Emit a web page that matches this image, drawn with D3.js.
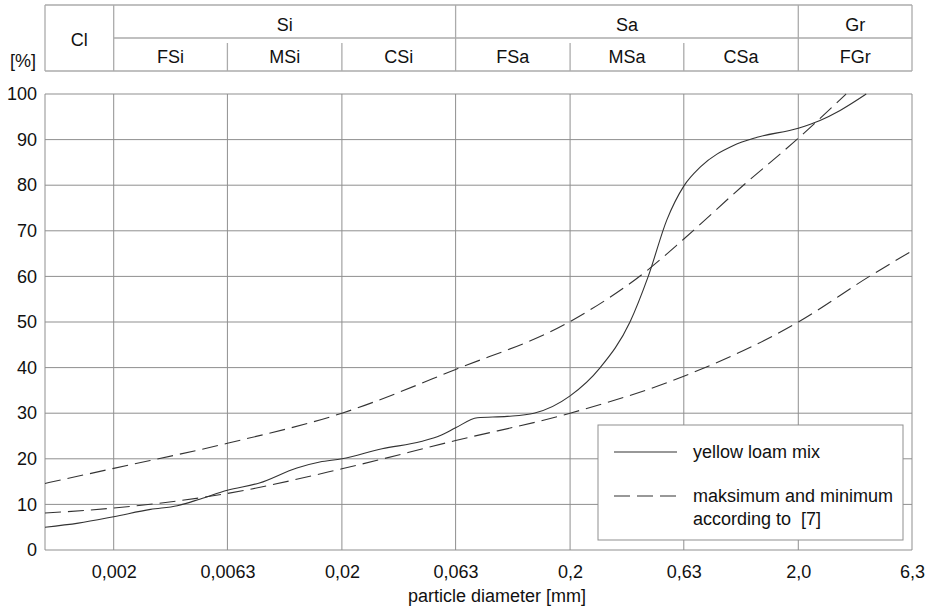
<!DOCTYPE html>
<html>
<head>
<meta charset="utf-8">
<script src="https://cdn.jsdelivr.net/npm/d3@7"></script>
<style>
  html, body { margin: 0; padding: 0; background: #fff; }
  svg { display: block; font-family: "Liberation Sans", Arial, sans-serif; }
  text { fill: #111; }
</style>
</head>
<body>
<svg id="chart" width="934" height="609"></svg>
<script>
// Grain size classes (mm) shown in the header table
const mainFractions = ["Cl", "Si", "Sa", "Gr"];
const mainBounds = [[0.001, 0.002], [0.002, 0.063], [0.063, 2.0], [2.0, 6.3]];
const subFractions = ["FSi", "MSi", "CSi", "FSa", "MSa", "CSa", "FGr"];
const subBounds = [[0.002, 0.0063], [0.0063, 0.02], [0.02, 0.063], [0.063, 0.2], [0.2, 0.63], [0.63, 2.0], [2.0, 6.3]];

// Axis ticks
const xTickValues = [0.002, 0.0063, 0.02, 0.063, 0.2, 0.63, 2.0, 6.3];
const xTickLabels = ["0,002", "0,0063", "0,02", "0,063", "0,2", "0,63", "2,0", "6,3"];
const yTickValues = [0, 10, 20, 30, 40, 50, 60, 70, 80, 90, 100];

// Grading curve of the yellow loam mix: particle diameter (mm) vs. passing (%)
const loamDiameter = [0.001, 0.0014, 0.002, 0.0029, 0.0038, 0.0048, 0.0063, 0.0087, 0.0127, 0.016, 0.02,
  0.03, 0.0445, 0.054, 0.063, 0.0785, 0.106, 0.139, 0.2, 0.271, 0.366, 0.44, 0.531, 0.63, 0.745, 1.04,
  1.32, 2.0, 2.49, 3.05, 3.97];
const loamPassing = [5.0, 5.9, 7.3, 8.9, 9.7, 11.2, 13.1, 14.7, 18.0, 19.3, 20.0,
  22.2, 23.8, 25.1, 26.8, 29.0, 29.3, 30.0, 33.8, 40.0, 50.0, 60.0, 72.4, 79.8, 84.0, 88.7,
  90.5, 92.5, 94.2, 96.4, 100];

// Upper limit of the recommended grading envelope
const maxDiameter = [0.001, 0.002, 0.0063, 0.02, 0.063, 0.2, 0.44, 0.63, 1.12, 2.0, 3.24];
const maxPassing = [14.6, 17.9, 23.4, 30.0, 39.6, 50.1, 61.5, 68.2, 79.5, 90.3, 100];

// Lower limit of the recommended grading envelope
const minDiameter = [0.001, 0.002, 0.0063, 0.02, 0.063, 0.2, 0.63, 2.0, 4.1, 6.3];
const minPassing = [8.1, 9.2, 12.4, 17.8, 24.0, 30.0, 38.1, 50.0, 60.0, 65.6];

const legendLabels = ["yellow loam mix", "maksimum and minimum", "according to  [7]"];

const svg = d3.select("#chart");
const plotLeft = 45, plotRight = 912, plotTop = 94, plotBottom = 550;
const gridColor = "#8f8f8f";
const headColor = "#ababab";
const curveColor = "#333";
const dash = "16,7";

const x = d3.scaleLog().domain([0.001, 6.3]).range([plotLeft, plotRight]);
const y = d3.scaleLinear().domain([0, 100]).range([plotBottom, plotTop]);

// ---- header table with the soil fractions ----
const head = svg.append("g");
const hTop = 5, hMid = 38, hSub = 43, hBot = 71;
head.append("line").attr("x1", plotLeft).attr("x2", plotRight).attr("y1", hTop).attr("y2", hTop);
head.append("line").attr("x1", x(0.002)).attr("x2", plotRight).attr("y1", hMid).attr("y2", hMid);
head.append("line").attr("x1", plotLeft).attr("x2", plotRight).attr("y1", hBot).attr("y2", hBot);
const fullDividers = [mainBounds[0][0]].concat(mainBounds.map(b => b[1]));
fullDividers.forEach(d => {
  head.append("line").attr("x1", x(d)).attr("x2", x(d)).attr("y1", hTop).attr("y2", hBot);
});
subBounds.forEach(b => {
  if (fullDividers.indexOf(b[0]) >= 0) return;
  head.append("line").attr("x1", x(b[0])).attr("x2", x(b[0])).attr("y1", hSub).attr("y2", hBot);
});
head.selectAll("line").attr("stroke", headColor).attr("stroke-width", 1.3);

mainFractions.forEach((name, i) => {
  const b = mainBounds[i];
  const single = i === 0;
  head.append("text")
    .attr("x", (x(b[0]) + x(b[1])) / 2)
    .attr("y", single ? 46 : 31)
    .attr("text-anchor", "middle")
    .attr("font-size", 18)
    .text(name);
});
subFractions.forEach((name, i) => {
  const b = subBounds[i];
  head.append("text")
    .attr("x", (x(b[0]) + x(b[1])) / 2)
    .attr("y", 62.5)
    .attr("text-anchor", "middle")
    .attr("font-size", 18)
    .text(name);
});

// ---- grid ----
const grid = svg.append("g");
grid.selectAll(".hg").data(yTickValues).join("line")
  .attr("x1", plotLeft).attr("x2", plotRight)
  .attr("y1", d => y(d)).attr("y2", d => y(d));
grid.selectAll(".vg").data([0.001].concat(xTickValues)).join("line")
  .attr("x1", d => x(d)).attr("x2", d => x(d))
  .attr("y1", plotTop).attr("y2", plotBottom);
grid.selectAll("line").attr("stroke", gridColor).attr("stroke-width", 1);

// ---- axes ----
const xAxis = d3.axisBottom(x).tickValues(xTickValues)
  .tickFormat((d, i) => xTickLabels[i]).tickSize(0).tickPadding(15);
svg.append("g").attr("transform", `translate(0,${plotBottom})`).call(xAxis)
  .call(g => g.select(".domain").remove())
  .selectAll("text").attr("font-size", 18).attr("font-family", null).attr("fill", "#111");

const yAxis = d3.axisLeft(y).tickValues(yTickValues).tickSize(0).tickPadding(8);
svg.append("g").attr("transform", `translate(${plotLeft},0)`).call(yAxis)
  .call(g => g.select(".domain").remove())
  .selectAll("text").attr("font-size", 18).attr("font-family", null).attr("fill", "#111");

svg.append("text").attr("x", 10).attr("y", 67).attr("font-size", 18).text("[%]");
svg.append("text").attr("x", 497).attr("y", 602).attr("text-anchor", "middle")
  .attr("font-size", 18).text("particle diameter [mm]");

// ---- curves ----
const line = d3.line().x(d => x(d[0])).y(d => y(d[1])).curve(d3.curveMonotoneX);
const curves = svg.append("g").attr("fill", "none").attr("stroke", curveColor).attr("stroke-width", 1.1);
curves.append("path").attr("d", line(d3.zip(maxDiameter, maxPassing))).attr("stroke-dasharray", dash);
curves.append("path").attr("d", line(d3.zip(minDiameter, minPassing))).attr("stroke-dasharray", dash);
curves.append("path").attr("d", line(d3.zip(loamDiameter, loamPassing)));

// ---- legend ----
const lg = svg.append("g");
lg.append("rect").attr("x", 598).attr("y", 425).attr("width", 305).attr("height", 115)
  .attr("fill", "#fff").attr("stroke", gridColor).attr("stroke-width", 1);
lg.append("line").attr("x1", 614).attr("x2", 677).attr("y1", 452).attr("y2", 452)
  .attr("stroke", curveColor).attr("stroke-width", 1.1);
lg.append("line").attr("x1", 614).attr("x2", 677).attr("y1", 496).attr("y2", 496)
  .attr("stroke", curveColor).attr("stroke-width", 1.1).attr("stroke-dasharray", dash);
[458, 502, 525].forEach((yy, i) => {
  lg.append("text").attr("x", 693).attr("y", yy).attr("font-size", 18)
    .style("white-space", "pre").text(legendLabels[i]);
});
</script>
</body>
</html>
